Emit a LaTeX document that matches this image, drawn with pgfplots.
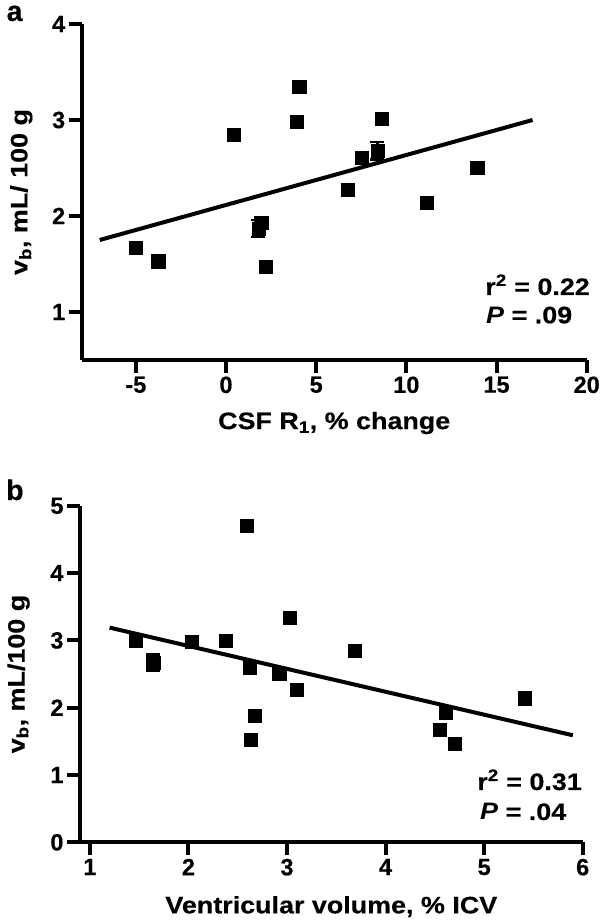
\documentclass[border=0pt]{standalone}
\usepackage{fontspec}
\setmainfont{Liberation Sans}[BoldFeatures={FakeBold=0.4}]
\newfontfamily\wide{Liberation Sans}[FakeStretch=1.13, BoldFeatures={FakeBold=0.4}]
\usepackage{pgfplots}
\pgfplotsset{compat=1.18}
\newcommand{\fs}{\fontsize{23.5}{23.5}\selectfont\bfseries}
\newcommand{\fw}{\wide\fontsize{23.8}{23.8}\selectfont\bfseries}
\pgfplotsset{
  gp/.style={
    scale only axis,
    axis x line*=bottom, axis y line*=left,
    axis line style={line width=4pt, black},
    every tick/.style={line width=4pt, black},
    major tick length=13pt,
    tick align=outside,
    tick label style={font=\fs},
    label style={font=\fw},
    /pgf/number format/assume math mode=true,
    clip=false,
  },
  pts/.style={only marks, mark=square*, mark size=6.6pt, black},
  fit/.style={no marks, line width=4pt, black},
  eb/.style={only marks, mark=square*, mark size=6.6pt, black,
    error bars/.cd, y dir=both, y explicit,
    error bar style={line width=2.5pt, black},
    error mark options={rotate=90, mark size=7pt, line width=2.5pt, black}},
}
\begin{document}
\begin{tikzpicture}[x=1pt,y=1pt]
\path[use as bounding box] (0,0) rectangle (600,920);

% Panel a
\begin{axis}[gp,
  at={(81.7pt,560pt)}, anchor=south west,
  width=505pt, height=336pt,
  xmin=-8, xmax=20, ymin=0.5, ymax=4,
  xtick={-5,0,5,10,15,20}, xticklabels={-5,0,5,10,15,20},
  ytick={1,2,3,4},
  xlabel={CSF R\textsubscript{1}, \% change},
  ylabel={v\textsubscript{b}, mL/ 100 g},
  xlabel style={at={(axis description cs:0.5,-0.1875)}, anchor=center},
  ylabel style={at={(axis description cs:-0.1196,0.5)}, anchor=center},
]
\addplot[fit] coordinates {(-7,1.75) (17,3.0)};
\addplot[pts] coordinates {
  (-5.02,1.67) (-3.76,1.53) (0.43,2.85) (1.95,1.93) (2.18,1.47)
  (3.91,2.98) (4.06,3.35) (6.75,2.27) (7.52,2.61) (8.63,3.01)
  (11.13,2.14) (13.93,2.50)
};
\addplot[eb] coordinates {
  (1.80,1.87) +- (0,0.09)
  (8.40,2.68) +- (0,0.09)
};
\end{axis}

% Panel b
\begin{axis}[gp,
  at={(80pt,77.7pt)}, anchor=south west,
  width=502.7pt, height=336.5pt,
  xmin=0.9, xmax=6, ymin=0, ymax=5,
  xtick={1,2,3,4,5,6},
  ytick={0,1,2,3,4,5},
  xlabel={Ventricular volume, \% ICV},
  ylabel={v\textsubscript{b}, mL/100 g},
  xlabel style={at={(axis description cs:0.5,-0.191)}, anchor=center},
  ylabel style={at={(axis description cs:-0.1223,0.5)}, anchor=center},
]
\addplot[fit] coordinates {(1.2,3.19) (5.9,1.59)};
\addplot[pts] coordinates {
  (1.463,3.00) (2.037,2.98) (2.38,3.00) (2.59,4.70) (2.62,2.60)
  (2.67,1.88) (2.635,1.52) (2.92,2.51) (3.03,3.34) (3.10,2.27)
  (3.69,2.85) (4.55,1.67) (4.61,1.92) (4.70,1.47) (5.41,2.14)
};
\addplot[eb] coordinates {
  (1.642,2.67) +- (0,0.12)
};
\end{axis}

\node[font=\fw, anchor=base east, inner sep=0pt] at (590,625) {r\textsuperscript{2} = 0.22};
\node[font=\fw, anchor=base west, inner sep=0pt] at (486,596.7) {\textit{P} = .09};
\node[font=\fw, anchor=base east, inner sep=0pt] at (582,130) {r\textsuperscript{2} = 0.31};
\node[font=\fw, anchor=base west, inner sep=0pt] at (480,100) {\textit{P} = .04};

\node[font=\fontsize{28.5}{28.5}\selectfont\bfseries, anchor=base west, inner sep=0pt] at (6.5,899) {a};
\node[font=\fontsize{28.5}{28.5}\selectfont\bfseries, anchor=base west, inner sep=0pt] at (6,420) {b};
\end{tikzpicture}
\end{document}
